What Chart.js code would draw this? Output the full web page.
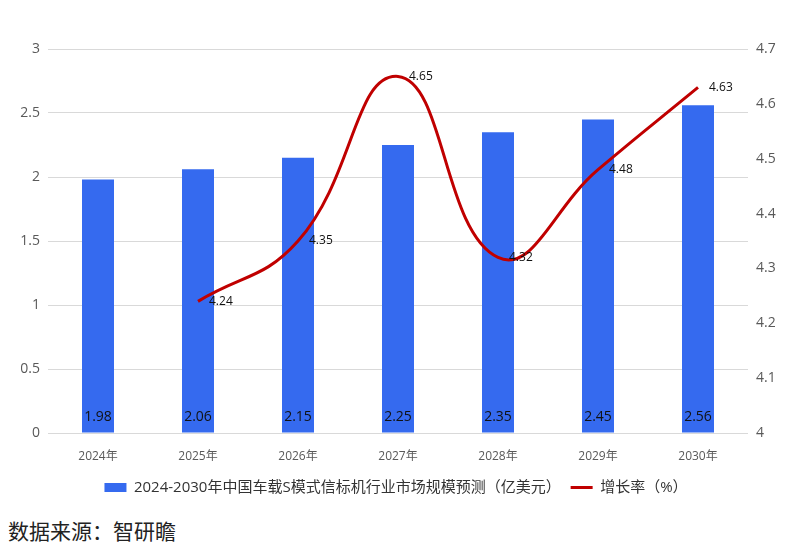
<!DOCTYPE html>
<html>
<head>
<meta charset="utf-8">
<script src="https://cdn.jsdelivr.net/npm/chart.js@4/dist/chart.umd.min.js"></script>
<style>
  body { margin: 0; background: #fff; width: 792px; height: 550px; position: relative; overflow: hidden; }
  #wrap { position: absolute; left: 0; top: 0; width: 792px; height: 505px; }
  #fonte { position: absolute; left: 8px; top: 515px; font: 21px "Noto Sans CJK SC", sans-serif; color: #222; }
</style>
</head>
<body>
<div id="wrap"><canvas id="grafico"></canvas></div>
<div id="fonte">数据来源：智研瞻</div>
<script>
// dados
const anos = ["2024年", "2025年", "2026年", "2027年", "2028年", "2029年", "2030年"];
const mercado = [1.98, 2.06, 2.15, 2.25, 2.35, 2.45, 2.56];
const crescimento = [null, 4.24, 4.35, 4.65, 4.32, 4.48, 4.63];

const nomeBarra = "2024-2030年中国车载S模式信标机行业市场规模预测（亿美元）";
const nomeLinha = "增长率（%）";

const fonteBase = '"Open Sans", "Noto Sans CJK SC", sans-serif';

// rótulos dos valores (barras embaixo, linha à direita do ponto)
const rotulos = {
    id: "rotulos",
    afterDatasetsDraw(chart) {
        const ctx = chart.ctx;
        ctx.save();
        const barras = chart.getDatasetMeta(1).data;
        ctx.font = "14px " + fonteBase;
        ctx.fillStyle = "#111";
        ctx.textAlign = "center";
        ctx.textBaseline = "middle";
        barras.forEach((b, i) => {
            ctx.fillText(mercado[i].toFixed(2), b.x, chart.chartArea.bottom - 16);
        });
        const pontos = chart.getDatasetMeta(0).data;
        ctx.font = "12px " + fonteBase;
        ctx.textAlign = "left";
        pontos.forEach((p, i) => {
            if (crescimento[i] === null) return;
            ctx.fillText(crescimento[i].toFixed(2), p.x + 11, p.y);
        });
        ctx.restore();
    }
};

new Chart(document.getElementById("grafico"), {
    data: {
        labels: anos,
        datasets: [
            {
                type: "line",
                label: nomeLinha,
                data: crescimento,
                yAxisID: "y2",
                borderColor: "#c00000",
                backgroundColor: "#c00000",
                borderWidth: 3,
                pointRadius: 0,
                pointStyle: "line",
                tension: 0.45,
                order: 0
            },
            {
                type: "bar",
                label: nomeBarra,
                data: mercado,
                yAxisID: "y",
                backgroundColor: "#356AEF",
                pointStyle: "rect",
                barPercentage: 0.8,
                categoryPercentage: 0.4,
                order: 1
            }
        ]
    },
    options: {
        responsive: true,
        maintainAspectRatio: false,
        animation: false,
        layout: { padding: { top: 49, left: 0, right: 0, bottom: 0 } },
        plugins: {
            tooltip: { enabled: false },
            legend: {
                position: "bottom",
                reverse: true,
                labels: {
                    usePointStyle: true,
                    boxWidth: 22,
                    boxHeight: 9,
                    pointStyleWidth: 22,
                    padding: 10,
                    color: "#333",
                    font: { size: 15, family: fonteBase }
                }
            }
        },
        scales: {
            x: {
                grid: { display: false },
                border: { display: false },
                ticks: { color: "#595959", padding: 8, font: { size: 12, family: fonteBase } },
                afterFit(s) { s.height = 37; }
            },
            y: {
                position: "left",
                min: 0,
                max: 3,
                ticks: { stepSize: 0.5, color: "#595959", padding: 8, font: { size: 14, family: fonteBase },
                    callback: v => String(Math.round(v * 10) / 10) },
                grid: { color: "#d9d9d9", drawTicks: false },
                border: { display: false },
                afterFit(s) { s.width = 48; }
            },
            y2: {
                position: "right",
                min: 4,
                max: 4.7,
                ticks: { stepSize: 0.1, color: "#595959", padding: 8, font: { size: 14, family: fonteBase },
                    callback: v => String(Math.round(v * 10) / 10) },
                grid: { display: false, drawTicks: false },
                border: { display: false },
                afterFit(s) { s.width = 44; }
            }
        }
    },
    plugins: [rotulos]
});
</script>
</body>
</html>
